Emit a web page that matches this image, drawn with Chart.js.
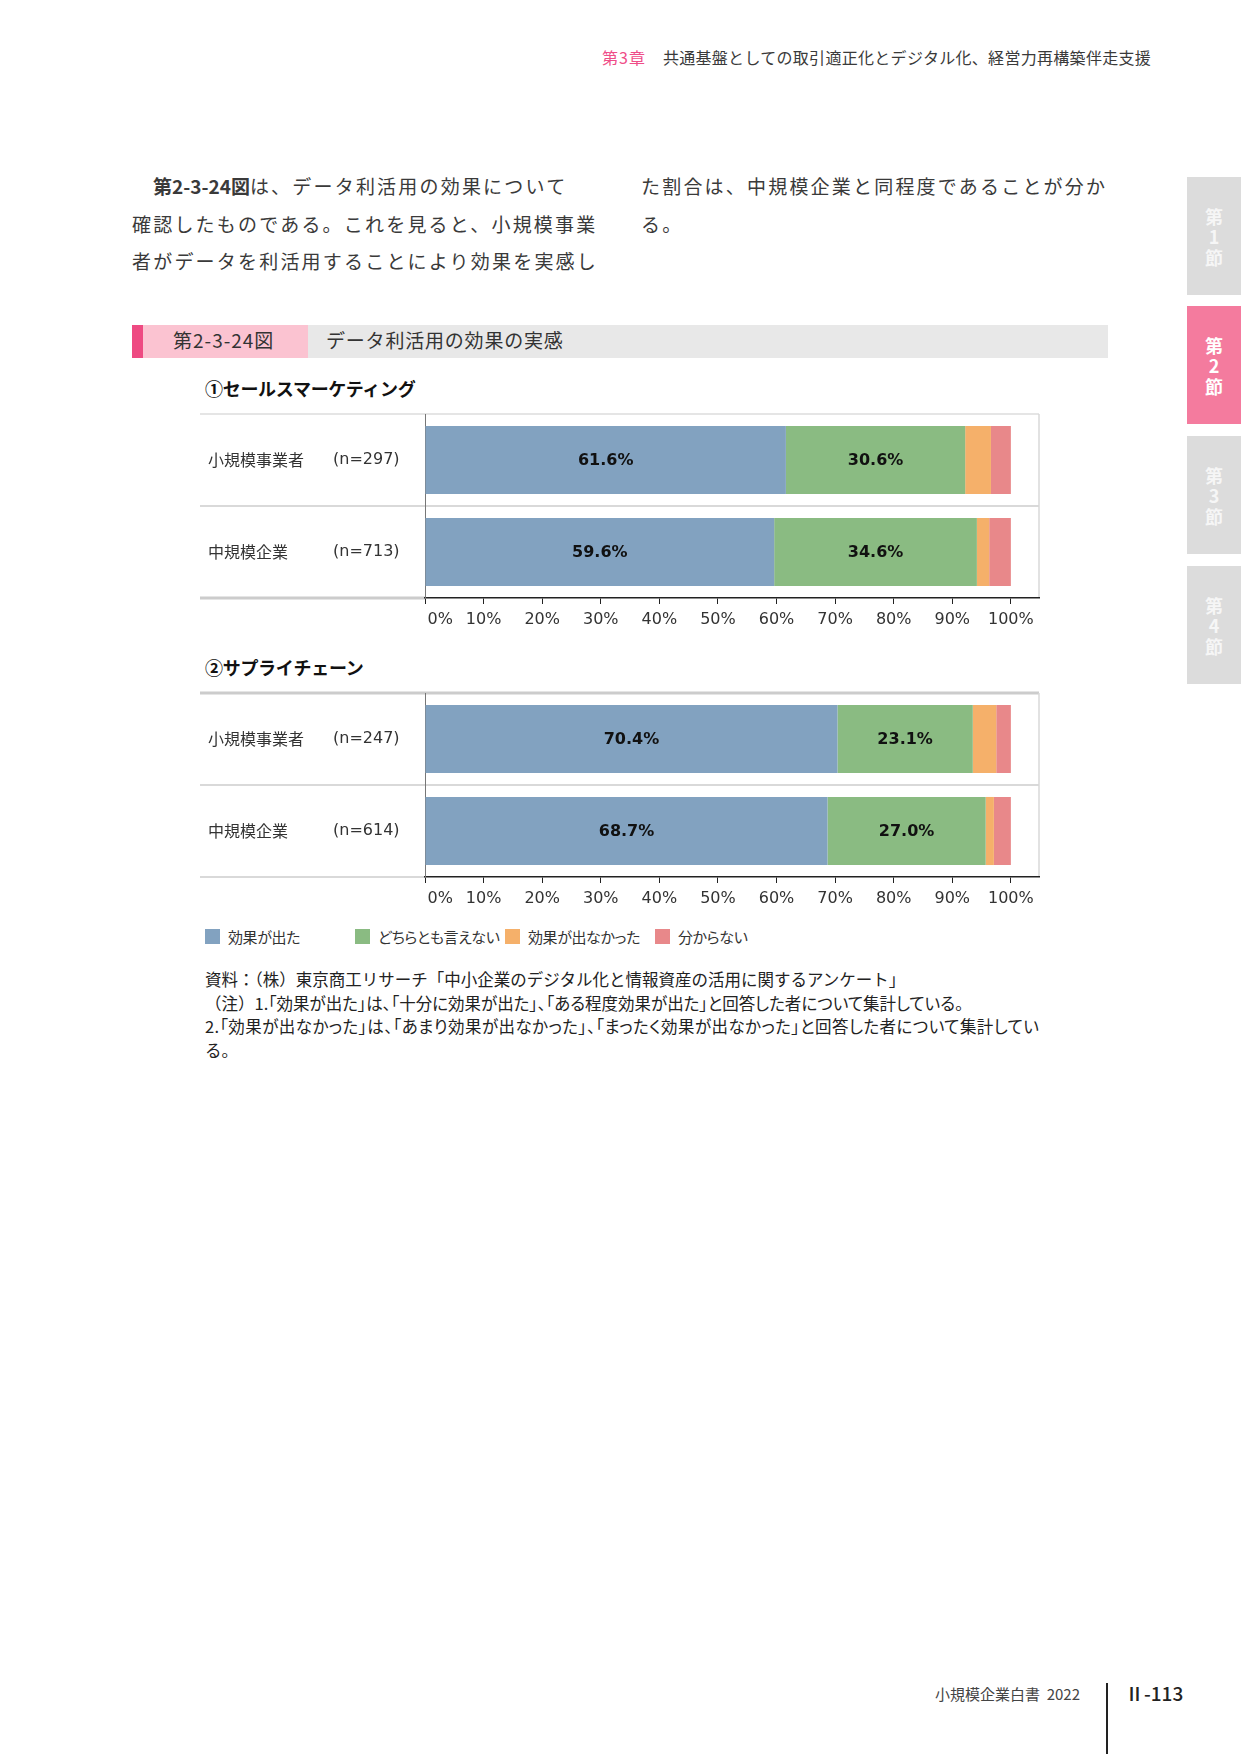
<!DOCTYPE html>
<html lang="ja">
<head>
<meta charset="utf-8">
<script src="https://cdn.jsdelivr.net/npm/chart.js@4.4.1/dist/chart.umd.min.js"></script>
<style>
  html, body { margin: 0; padding: 0; background: #fff; }
  body { width: 1241px; height: 1754px; position: relative; overflow: hidden;
         font-family: 'Noto Sans CJK JP', sans-serif; color: #333; }
  .abs { position: absolute; white-space: nowrap; }
  .body-text { font-size: 19px; line-height: 37.5px; letter-spacing: 2.2px; color: #3a3a3a; }
  .tab { position: absolute; left: 1187px; width: 54px; height: 118px; box-sizing: border-box;
         padding-top: 6px; background: #dcdcdc;
         color: #f6f6f6; font-size: 18px; font-weight: 700;
         display: flex; align-items: center; justify-content: center; }
  .tab span { writing-mode: vertical-rl; text-orientation: upright; letter-spacing: 2.5px; line-height: 20px; }
  .tab.on { background: #f47b9e; color: #fff; }
  .sub { font-size: 18px; font-weight: 700; color: #111; letter-spacing: -0.3px; }
  .legend { position: absolute; left: 205px; top: 926px; display: flex; font-size: 15px; color: #333;
            font-feature-settings: "palt"; letter-spacing: -0.4px; }
  .legend .item { width: 150px; flex-shrink: 0; display: flex; align-items: center; white-space: nowrap; }
  .legend .box { width: 15px; height: 15px; flex-shrink: 0; margin-right: 8px; }
  .notes { font-size: 16.5px; line-height: 23.5px; color: #222; }
  .palt { font-feature-settings: "palt"; }
</style>
</head>
<body>

<div class="abs" style="left:602px; top:45px; font-size:16px; line-height:24px; letter-spacing:0.3px; color:#3a3a3a;">
  <span style="color:#ef4d88; letter-spacing:1px;">第3章</span><span style="margin-left:17px;">共通基盤としての取引適正化とデジタル化、経営力再構築伴走支援</span>
</div>

<div class="abs body-text" style="left:132px; top:167px;">
  <span style="margin-left:21px; font-weight:700; letter-spacing:0;">第2-3-24図</span>は、データ利活用の効果について<br>
  確認したものである。これを見ると、小規模事業<br>
  者がデータを利活用することにより効果を実感し
</div>
<div class="abs body-text" style="left:641px; top:167px;">
  た割合は、中規模企業と同程度であることが分か<br>
  る。
</div>

<!-- figure title bar -->
<div class="abs" style="left:132px; top:325px; width:976px; height:33px; background:#e8e8e8;"></div>
<div class="abs" style="left:132px; top:325px; width:11px; height:33px; background:#ee4a82;"></div>
<div class="abs" style="left:143px; top:325px; width:165px; height:33px; background:#fbc3d1;"></div>
<div class="abs" style="left:173px; top:323px; line-height:33px; font-size:19px; letter-spacing:1px; color:#333;">第2-3-24図</div>
<div class="abs" style="left:326px; top:323px; line-height:33px; font-size:19px; letter-spacing:0.8px; color:#333;">データ利活用の効果の実感</div>

<!-- side tabs -->
<div class="tab" style="top:177px;"><span>第1節</span></div>
<div class="tab on" style="top:306px;"><span>第2節</span></div>
<div class="tab" style="top:436px;"><span>第3節</span></div>
<div class="tab" style="top:566px;"><span>第4節</span></div>

<div class="abs sub" style="left:205px; top:375px; line-height:26px;">①セールスマーケティング</div>
<canvas id="salesChart" width="842" height="234" style="position:absolute; left:199px; top:404px;"></canvas>

<div class="abs sub" style="left:205px; top:654px; line-height:26px;">②サプライチェーン</div>
<canvas id="supplyChart" width="842" height="234" style="position:absolute; left:199px; top:683px;"></canvas>

<div class="legend" id="legend"></div>

<div class="abs notes" style="left:205px; top:968px;">
  資料：（株）東京商工リサーチ「中小企業のデジタル化と情報資産の活用に関するアンケート」<br>
  （注）<span class="palt">1.「効果が出た」は、「十分に効果が出た」、「ある程度効果が出た」と回答した者について集計している。</span><br>
  <span class="palt" style="letter-spacing:0.45px;">2.「効果が出なかった」は、「あまり効果が出なかった」、「まったく効果が出なかった」と回答した者について集計してい</span><br>
  る。
</div>

<!-- footer -->
<div class="abs" style="left:935px; top:1682px; font-size:15px; line-height:24px; color:#444;">小規模企業白書&nbsp;&nbsp;2022</div>
<div class="abs" style="left:1106px; top:1683px; width:2px; height:71px; background:#222;"></div>
<div class="abs" style="left:1125px; top:1680px; font-size:19px; line-height:26px; font-weight:500; color:#222;">Ⅱ-113</div>

<script>
// categories
const rowNames = ['小規模事業者', '中規模企業'];
const salesCounts = ['(n=297)', '(n=713)'];
const supplyCounts = ['(n=247)', '(n=614)'];

// series
const seriesNames = ['効果が出た', 'どちらとも言えない', '効果が出なかった', '分からない'];
const seriesColors = ['#82a2c0', '#8abb82', '#f5b06a', '#e8888a'];

// ①セールスマーケティング (%)
const salesEffective = [61.6, 59.6];
const salesNeutral = [30.6, 34.6];
const salesNoEffect = [4.4, 2.1];
const salesUnknown = [3.4, 3.7];

// ②サプライチェーン (%)
const supplyEffective = [70.4, 68.7];
const supplyNeutral = [23.1, 27.0];
const supplyNoEffect = [4.0, 1.4];
const supplyUnknown = [2.5, 2.9];

// x axis tick labels
const axisTicks = [0, 10, 20, 30, 40, 50, 60, 70, 80, 90, 100];

// legend
document.getElementById('legend').innerHTML = seriesNames.map((name, i) =>
  `<div class="item"><span class="box" style="background:${seriesColors[i]}"></span>${name}</div>`
).join('');

function drawStackedChart(canvasId, counts, values, rowLineWidths) {
  const rowFrame = {
    id: 'rowFrame',
    beforeDraw(chart) {
      const { ctx, chartArea: a, scales: { y } } = chart;
      const p0 = y.getPixelForValue(0), p1 = y.getPixelForValue(1);
      const half = (p1 - p0) / 2;
      const edges = [p0 - half, p0 + half, p1 + half];
      ctx.save();
      ctx.strokeStyle = '#cccccc';
      edges.forEach((py, i) => {
        ctx.lineWidth = rowLineWidths[i];
        ctx.beginPath();
        ctx.moveTo(1, py);
        ctx.lineTo(i === edges.length - 1 ? a.left : a.right, py);
        ctx.stroke();
      });
      // right frame
      ctx.strokeStyle = '#d9d9d9';
      ctx.lineWidth = 1.5;
      ctx.beginPath();
      ctx.moveTo(a.right, a.top);
      ctx.lineTo(a.right, a.bottom);
      ctx.stroke();
      ctx.restore();
    },
    afterDatasetsDraw(chart) {
      const { ctx, chartArea: a, scales: { y } } = chart;
      ctx.save();
      ctx.textBaseline = 'middle';
      // row labels
      rowNames.forEach((name, i) => {
        const py = y.getPixelForValue(i);
        ctx.fillStyle = '#333';
        ctx.textAlign = 'left';
        ctx.font = '16px "Noto Sans CJK JP"';
        ctx.fillText(name, a.left - 217, py);
        ctx.font = '16px "DejaVu Sans"';
        ctx.fillText(counts[i], a.left - 92, py);
      });
      // value labels on first two series
      ctx.font = 'bold 16px "DejaVu Sans"';
      ctx.fillStyle = '#111';
      ctx.textAlign = 'center';
      [0, 1].forEach(di => {
        chart.getDatasetMeta(di).data.forEach((bar, i) => {
          ctx.fillText(values[di][i].toFixed(1) + '%', (bar.x + bar.base) / 2, bar.y + 1);
        });
      });
      ctx.restore();
    }
  };

  return new Chart(document.getElementById(canvasId), {
    type: 'bar',
    data: {
      labels: rowNames,
      datasets: seriesNames.map((name, i) => ({
        label: name,
        data: values[i],
        backgroundColor: seriesColors[i],
        borderWidth: 0,
        barPercentage: 0.74,
        categoryPercentage: 1
      }))
    },
    options: {
      indexAxis: 'y',
      responsive: false,
      devicePixelRatio: 1,
      animation: false,
      layout: { padding: { left: 9, top: 10, right: 2, bottom: 0 } },
      plugins: { legend: { display: false }, tooltip: { enabled: false } },
      scales: {
        x: {
          stacked: true,
          min: 0,
          max: 104.8,
          afterBuildTicks: s => { s.ticks = axisTicks.map(v => ({ value: v })); },
          afterFit: s => { s.height = 40; },
          ticks: {
            autoSkip: false,
            maxRotation: 0,
            padding: 6,
            color: '#333',
            font: { family: 'DejaVu Sans', size: 16 },
            callback: v => (v === 0 ? '\u00a0\u00a0\u00a0\u00a0\u00a0\u00a0' : '') + v + '%'
          },
          grid: { drawOnChartArea: false, drawTicks: true, tickLength: 6, color: '#222', lineWidth: 1 },
          border: { display: true, color: '#222', width: 1.5 }
        },
        y: {
          stacked: true,
          offset: true,
          afterFit: s => { s.width = 217; },
          ticks: { display: false },
          grid: { display: false },
          border: { display: true, color: '#777', width: 1 }
        }
      }
    },
    plugins: [rowFrame]
  });
}

drawStackedChart('salesChart', salesCounts,
  [salesEffective, salesNeutral, salesNoEffect, salesUnknown], [1.2, 1.5, 3]);
drawStackedChart('supplyChart', supplyCounts,
  [supplyEffective, supplyNeutral, supplyNoEffect, supplyUnknown], [3, 1.5, 1.5]);
</script>
</body>
</html>
